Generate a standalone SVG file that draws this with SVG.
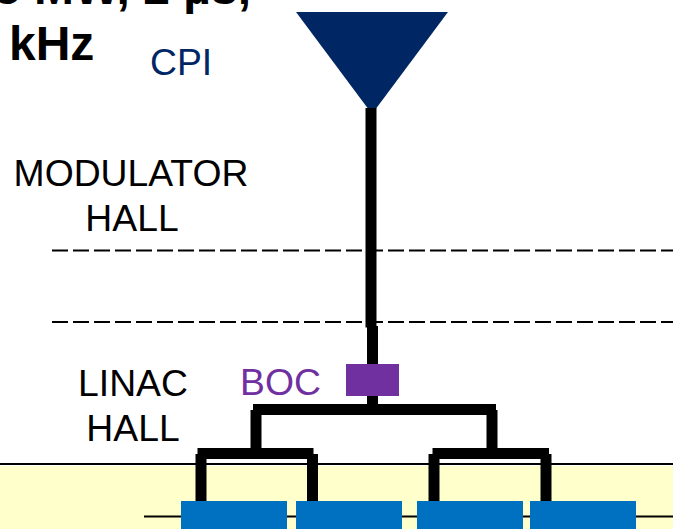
<svg xmlns="http://www.w3.org/2000/svg" width="673" height="529" viewBox="0 0 673 529">
<style>
text{font-family:"Liberation Sans",Arial,sans-serif;font-size:37.3px;fill:#000}
.b{font-weight:bold;font-size:48px}
.wg{fill:none;stroke:#000;stroke-width:11}
.d{fill:none;stroke:#000;stroke-width:2;stroke-dasharray:16 5}
.k{fill:#0070c0}
</style>
<rect id="tunnel-floor" x="0" y="466" width="673" height="63" fill="#ffffcc"/>
<g id="boundaries">
<line class="d" x1="52" y1="250.500" x2="673" y2="250.500"/>
<line class="d" x1="52" y1="322" x2="673" y2="322"/>
<line x1="0" y1="464" x2="673" y2="464" stroke="#000" stroke-width="2"/>
<line x1="144" y1="516.500" x2="673" y2="516.500" stroke="#000" stroke-width="2"/>
</g>
<g id="label-top"><text class="b" x="251" y="4" text-anchor="end">5 MW, 2 µs,</text><text class="b" x="9" y="60">kHz</text></g>
<g id="cpi"><polygon points="296,12 448,12 372,114" fill="#002664"/><text x="150" y="75" style="fill:#002664">CPI</text></g>
<g id="label-modulator-hall"><text x="131" y="186" text-anchor="middle">MODULATOR</text><text x="132" y="231" text-anchor="middle">HALL</text></g>
<g id="label-linac-hall"><text x="133" y="396" text-anchor="middle">LINAC</text><text x="133" y="441" text-anchor="middle">HALL</text></g>
<g id="boc"><rect x="346" y="364" width="53" height="32" fill="#7030a0"/><text x="240" y="395" style="fill:#7030a0">BOC</text></g>
<g id="klystron-1"><rect class="k" x="181" y="501" width="106" height="28"/></g>
<g id="klystron-2"><rect class="k" x="296" y="501" width="106" height="28"/></g>
<g id="klystron-3"><rect class="k" x="417" y="501" width="106" height="28"/></g>
<g id="klystron-4"><rect class="k" x="530" y="501" width="106" height="28"/></g>
<g id="connectors">
<line class="wg" x1="371" y1="108" x2="371" y2="327.500"/>
<line class="wg" x1="372.500" y1="326" x2="372.500" y2="364"/>
<line class="wg" x1="372.500" y1="396" x2="372.500" y2="405"/>
<line class="wg" x1="253" y1="409.500" x2="496" y2="409.500"/>
<line class="wg" x1="256" y1="410" x2="256" y2="449"/>
<line class="wg" x1="492" y1="410" x2="492" y2="449"/>
<line class="wg" x1="197.500" y1="453.500" x2="313.500" y2="453.500"/>
<line class="wg" x1="201" y1="454" x2="201" y2="501"/>
<line class="wg" x1="312.500" y1="454" x2="312.500" y2="501"/>
<line class="wg" x1="432.500" y1="453.500" x2="549" y2="453.500"/>
<line class="wg" x1="434" y1="454" x2="434" y2="501"/>
<line class="wg" x1="546" y1="454" x2="546" y2="501"/>
</g>
</svg>
